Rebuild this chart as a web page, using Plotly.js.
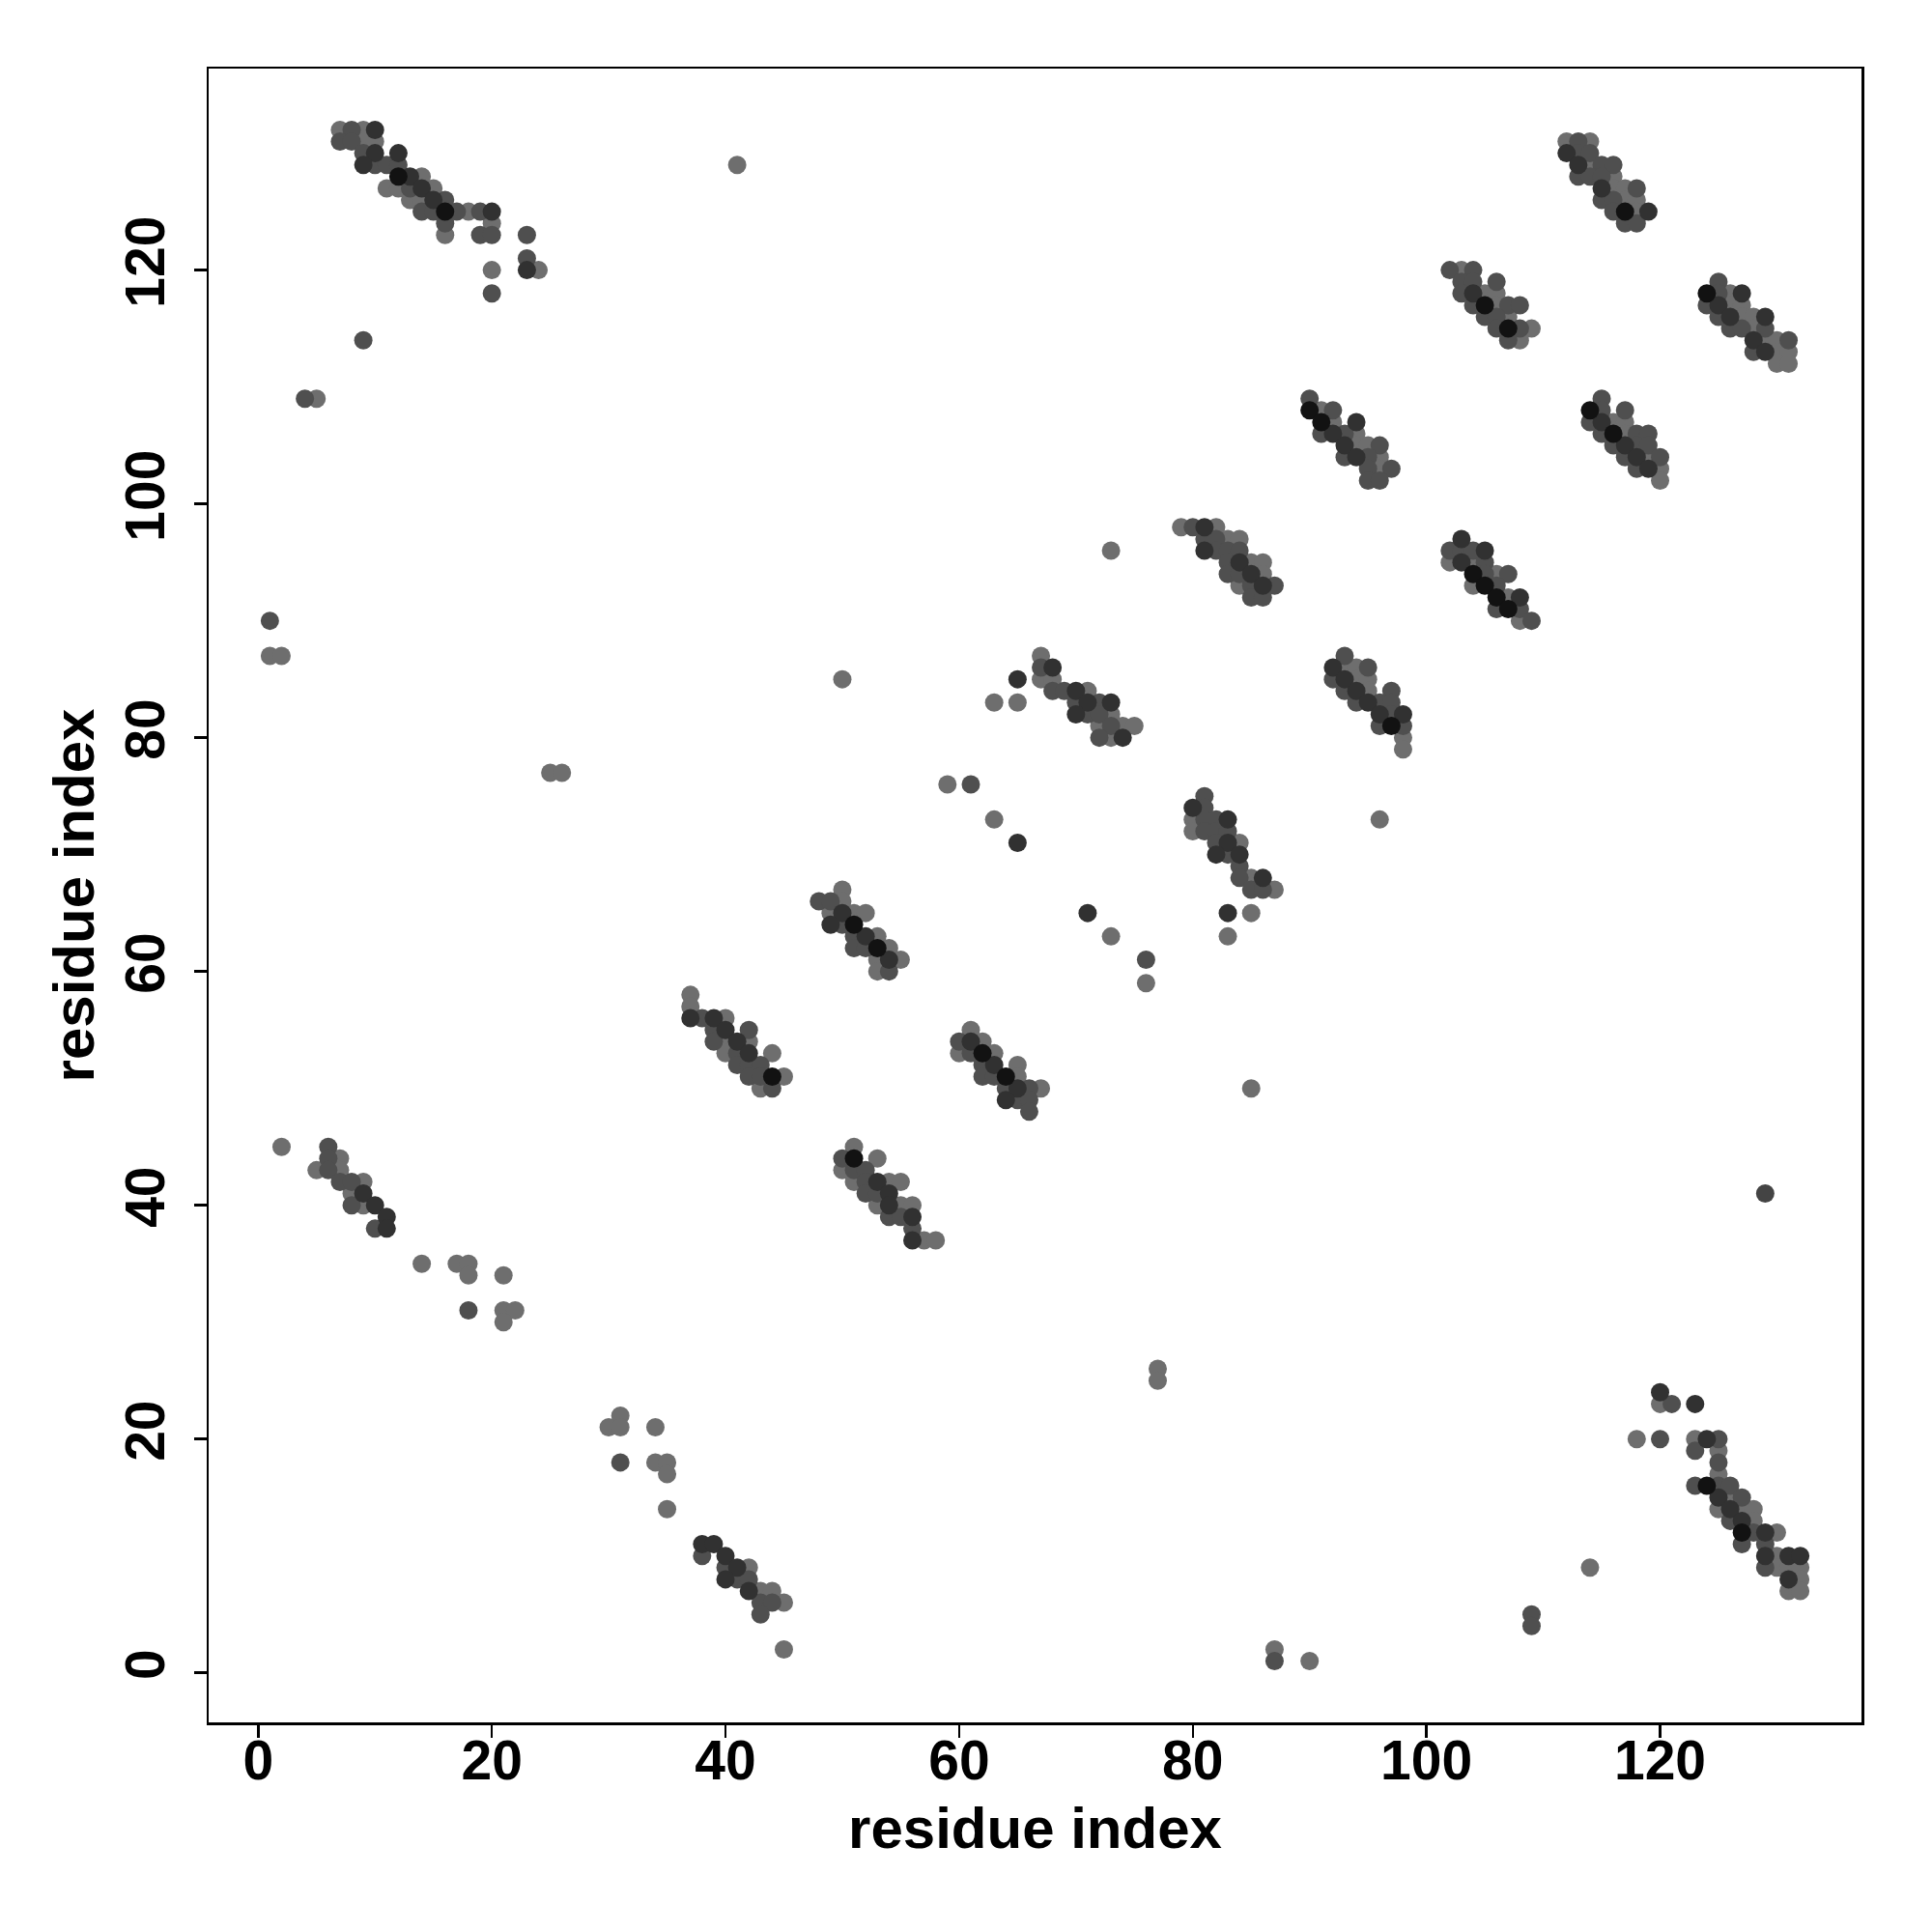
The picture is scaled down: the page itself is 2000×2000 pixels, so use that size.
<!DOCTYPE html>
<html>
<head>
<meta charset="utf-8">
<script src="https://cdn.plot.ly/plotly-3.0.1.min.js"></script>
<style>html,body{margin:0;padding:0;background:#fff;}#chart{width:2000px;height:2000px;}</style>
</head>
<body>
<div id="chart"></div>
<script>
// Contact map: residue i (x), residue j (y), contact strength level (1 weak .. 4 strong)
var resI = [
  // top-left block
  7,8,9,10, 7,8,9,10, 9,10,12, 9,10,11,12, 12,13,14, 11,12,13,14,15, 13,14,15,16,
  14,15,16,17,18,19,20, 16,20, 16,19,20,23, 23, 20,23,24, 20,
  41,9,4,5,1,1,2,25,26,
  // lower-left block
  2,6,6,7,5,6,7,7,8,9,8,9,8,9,10,11,10,11,14,17,18,18,21,18,21,22,21,
  31,30,31,34,31,34,35,35,35,38,39,38,40,40,41,42,40,41,42,42,43,44,43,44,45,43,45,
  // 37-45 x 50-58
  37,37,37,38,39,40,39,40,42,39,40,41,42,40,41,42,44,41,42,43,42,43,44,45,43,44,
  // 48-55 x 60-67
  50,48,49,50,49,50,51,52,49,50,51,51,52,53,51,52,53,54,53,54,55,53,54,
  // 50-58 x 37-45
  51,50,51,53,50,51,52,51,52,53,54,55,52,53,54,53,54,55,56,54,55,56,56,56,57,58,
  // 63-75 x 80-87
  67,67,68,65,67,68,68,69,70,71,63,65,70,71,72,73,70,71,72,73,72,73,74,75,72,73,74,
  59,61,63,65,71,73,76,76,50,
  // 60-67 x 48-55
  61,60,61,62,60,61,62,63,62,63,65,62,63,64,65,64,65,66,67,64,65,66,66,
  // 79-87 x 92-98
  79,80,81,82,81,82,83,84,81,82,83,84,83,84,85,86,83,84,85,86,84,85,86,87,85,86,
  // 80-87 x 63-75
  81,80,81,80,81,82,83,80,81,82,83,82,83,84,82,83,84,84,84,85,86,85,86,87,83,85,83,
  73,85,
  // 90-97 x 102-109
  90,90,91,92,91,92,94,91,92,93,94,93,94,95,96,93,94,95,96,95,96,97,95,96,
  // 92-98 x 79-87
  93,92,93,94,95,92,93,94,95,93,94,95,97,94,95,96,97,96,97,98,96,97,98,98,98,96,
  // 102-109 x 114-120
  102,103,104,103,104,106,103,104,105,106,104,105,106,107,108,105,106,107,106,107,108,109,107,108,
  // 102-109 x 90-97
  103,102,103,104,105,102,103,104,105,104,105,106,107,104,105,106,106,107,108,106,107,108,108,109,
  // 112-119 x 124-131
  112,113,114,112,113,114,113,114,115,116,113,114,115,116,115,116,117,118,115,116,117,118,116,117,118,119,117,118,
  // 114-120 x 102-109
  115,114,115,117,114,115,116,117,115,116,117,118,119,116,117,118,119,117,118,119,120,118,119,120,120,
  // 124-131 x 112-119
  125,124,125,126,127,124,125,126,127,125,126,127,128,129,126,127,128,129,128,129,130,131,128,129,130,131,130,131,
  // 118-132 x 7-24
  120,120,121,123,118,120,123,124,125,123,125,125,125,123,124,125,126,125,126,127,125,126,127,128,126,127,128,
  127,128,129,130,127,129,129,130,131,132,129,130,131,132,131,132,131,132,
  77,77,87,87,90,109,109,114,129
];
var resJ = [
  132,132,132,132, 131,131,131,131, 130,130,130, 129,129,129,129, 128,128,128, 127,127,127,127,127, 126,126,126,126,
  125,125,125,125,125,125,125, 124,124, 123,123,123,123, 121, 120,120,120, 118,
  129,114,109,109,90,87,87,77,77,
  45,45,44,44,43,43,43,42,42,42,41,41,40,40,40,39,38,38,35,35,35,34,34,31,31,31,30,
  22,21,21,21,18,18,18,17,14,11,11,10,10,9,9,9,8,8,8,7,7,7,6,6,6,5,2,
  58,57,56,56,56,56,55,55,55,54,54,54,54,53,53,53,53,52,52,52,51,51,51,51,50,50,
  67,66,66,66,65,65,65,65,64,64,64,63,63,63,62,62,62,62,61,61,61,60,60,
  45,44,44,44,43,43,43,42,42,42,42,42,41,41,41,40,40,40,40,39,39,39,38,37,37,37,
  87,86,86,85,85,85,84,84,84,84,83,83,83,83,83,83,82,82,82,82,81,81,81,81,80,80,80,
  76,76,73,71,65,63,61,59,85,
  55,54,54,54,53,53,53,53,52,52,52,51,51,51,51,50,50,50,50,49,49,49,48,
  98,98,98,98,97,97,97,97,96,96,96,96,95,95,95,95,94,94,94,94,93,93,93,93,92,92,
  75,74,74,73,73,73,73,72,72,72,72,71,71,71,70,70,70,69,68,68,68,67,67,67,65,65,63,
  96,50,
  109,108,108,108,107,107,107,106,106,106,106,105,105,105,105,104,104,104,104,103,103,103,102,102,
  87,86,86,86,86,85,85,85,85,84,84,84,84,83,83,83,83,82,82,82,81,81,81,80,79,73,
  120,120,120,119,119,119,118,118,118,118,117,117,117,117,117,116,116,116,115,115,115,115,114,114,
  97,96,96,96,96,95,95,95,95,94,94,94,94,93,93,93,92,92,92,91,91,91,90,90,
  131,131,131,130,130,130,129,129,129,129,128,128,128,128,127,127,127,127,126,126,126,126,125,125,125,125,124,124,
  109,108,108,108,107,107,107,107,106,106,106,106,106,105,105,105,105,104,104,104,104,103,103,103,102,
  119,118,118,118,118,117,117,117,117,116,116,116,116,116,115,115,115,115,114,114,114,114,113,113,113,113,112,112,
  24,23,23,23,20,20,20,20,20,19,19,18,17,16,16,16,16,15,15,15,14,14,14,14,13,13,13,
  12,12,12,12,11,11,10,10,10,10,9,9,9,9,8,8,7,7,
  26,25,2,1,1,5,4,9,41
];
var strength = [
  1,2,1,3, 2,2,1,1, 2,3,3, 3,2,2,2, 4,3,1, 1,1,2,3,1, 1,1,3,2,
  2,2,4,2,1,2,3, 2,1, 1,2,2,2, 2, 1,3,1, 2,
  1,2,2,1,2,1,1,1,1,
  1,2,2,1,1,2,1,2,2,1,1,3,2,1,3,3,2,3,1,1,1,1,1,2,1,1,1,
  1,1,1,1,2,1,1,1,1,3,3,2,3,2,3,1,3,2,2,3,1,1,2,2,1,2,1,
  1,1,3,2,3,1,2,3,2,2,1,3,1,1,2,3,1,2,2,2,2,2,4,1,1,2,
  1,2,2,1,1,3,1,1,3,2,4,2,3,1,2,2,4,1,1,3,1,1,2,
  1,2,4,1,1,2,2,1,2,3,1,1,2,2,3,1,3,1,1,2,2,3,2,3,1,1,
  1,2,3,3,1,1,2,2,3,1,1,1,2,3,2,3,3,2,2,1,1,2,1,1,2,1,3,
  1,2,1,3,3,1,2,1,1,
  1,2,3,1,1,2,4,1,2,3,1,2,2,4,1,2,3,2,1,3,2,2,2,
  1,2,3,1,2,2,1,1,3,2,2,2,2,3,1,1,2,2,3,1,1,2,3,2,2,2,
  2,3,2,1,2,2,3,1,2,2,2,2,3,1,3,2,3,2,2,1,3,2,2,1,3,1,
  1,1,
  1,2,4,1,2,4,1,3,2,3,2,1,3,1,1,2,2,3,2,1,2,1,2,2,
  2,2,3,1,1,2,2,3,1,1,2,3,1,2,2,3,2,2,3,2,3,2,4,2,1,1,
  1,2,1,2,2,2,2,2,3,1,1,2,4,1,2,2,2,2,1,2,4,2,1,2,
  1,3,2,2,2,3,1,3,1,2,4,2,1,2,1,4,2,4,1,3,2,4,2,1,
  2,1,2,1,3,2,2,3,1,2,2,2,2,2,1,3,1,1,2,2,2,1,1,2,4,1,3,2,
  2,2,4,2,2,2,3,1,1,2,4,1,2,2,2,3,2,2,2,3,1,2,2,3,1,
  1,2,4,2,1,3,2,3,1,1,2,3,1,1,3,2,2,1,2,3,1,1,2,2,3,1,1,1,
  1,3,1,2,3,1,2,1,3,2,2,1,2,1,2,4,2,2,3,1,2,1,3,1,1,2,3,
  1,4,2,3,1,2,2,3,1,3,3,2,1,1,1,3,1,1,
  1,1,1,1,2,1,2,2,1
];
var tickVals = [0, 20, 40, 60, 80, 100, 120];
var axisTitle = "residue index";

// draw stronger contacts on top
var order = resI.map(function(_, k){ return k; });
order.sort(function(a, b){ return strength[a] - strength[b] || a - b; });
var xs = order.map(function(k){ return resI[k]; });
var ys = order.map(function(k){ return resJ[k]; });
var cs = order.map(function(k){ return strength[k]; });

var fontFam = "Liberation Sans, Arial, sans-serif";
var trace = {
  type: "scatter",
  mode: "markers",
  x: xs, y: ys,
  marker: {
    size: 19,
    color: cs,
    cmin: 1, cmax: 4,
    colorscale: [[0, "#6e6e6e"], [1, "#121212"]],
    showscale: false,
    line: {width: 0}
  },
  hoverinfo: "x+y"
};

function axisCfg(isY) {
  return {
    range: [-4.24, 137.24],
    tickmode: "array",
    tickvals: tickVals,
    ticktext: tickVals.map(String),
    ticks: "outside",
    ticklen: 13,
    tickwidth: 2.5,
    tickcolor: "#000",
    showline: true,
    mirror: true,
    linewidth: 2.5,
    linecolor: "#000",
    showgrid: false,
    zeroline: false,
    tickangle: isY ? -90 : 0,
    ticklabelstandoff: isY ? 8 : -25,
    tickfont: {family: fontFam, size: 57, color: "#000", weight: "bold"},
    title: {text: axisTitle, font: {family: fontFam, size: 60, color: "#000", weight: "bold"}, standoff: isY ? 1 : 18},
    automargin: false
  };
}

var layout = {
  width: 2000, height: 2000,
  margin: {l: 216, r: 73, t: 71, b: 217},
  paper_bgcolor: "#fff",
  plot_bgcolor: "#fff",
  showlegend: false,
  xaxis: axisCfg(false),
  yaxis: axisCfg(true)
};

Plotly.newPlot("chart", [trace], layout, {staticPlot: true, displayModeBar: false});
</script>
</body>
</html>
